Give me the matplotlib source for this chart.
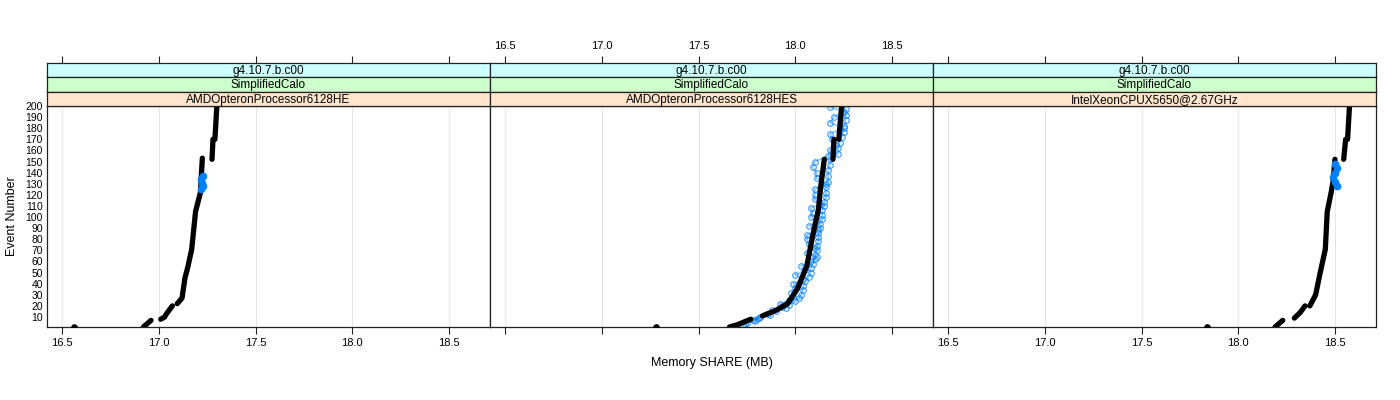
import numpy as np
import matplotlib
matplotlib.use('Agg')
import matplotlib.pyplot as plt

plt.rcParams['font.family'] = ['Liberation Sans', 'DejaVu Sans']

# panel labels (strips top to bottom)
version = 'g4.10.7.b.c00'
test = 'SimplifiedCalo'
cpus = ['AMDOpteronProcessor6128HE', 'AMDOpteronProcessor6128HES',
        'IntelXeonCPUX5650@2.67GHz']

# black series: segments of (event, memory MB), nan separates segments
p1_event = [1, np.nan, 1, 7, np.nan, 8, 10, 13, 20, np.nan, 22, 27, 45, 55, 71, 105, 122, 153,
            np.nan, 152, 170, np.nan, 170, 200]
p1_mem = [16.56, np.nan, 16.92, 16.96, np.nan, 17.01, 17.03, 17.04, 17.07, np.nan,
          17.095, 17.12, 17.135, 17.15, 17.17, 17.19, 17.215, 17.225,
          np.nan, 17.275, 17.28, np.nan, 17.29, 17.30]

p2_event = [1, np.nan, 1, 3, 8, np.nan, 11, 16, 22, 35, 56, 83, 107, 125, 152,
            np.nan, 152, 170, np.nan, 170, 200]
p2_mem = [17.28, np.nan, 17.66, 17.70, 17.77, np.nan, 17.83, 17.90, 17.96, 18.01, 18.06,
          18.09, 18.12, 18.13, 18.15, np.nan, 18.195, 18.20, np.nan, 18.225, 18.24]

p3_event = [1, np.nan, 1, 4, 7, np.nan, 9, 14, 20, np.nan, 20, 30, 47, 71, 105, 122, 132, 152,
            np.nan, 152, 170, np.nan, 170, 200]
p3_mem = [17.84, np.nan, 18.19, 18.21, 18.23, np.nan, 18.29, 18.32, 18.345, np.nan,
          18.37, 18.40, 18.42, 18.45, 18.46, 18.48, 18.49, 18.50,
          np.nan, 18.545, 18.555, np.nan, 18.565, 18.575]

# blue series (other runs)
b1_event = [125, 128, 131, 134, 137]
b1_mem = [17.22, 17.23, 17.225, 17.22, 17.23]

b2_event = [3, 5, 6, 8, 10, 13, 16, 19, 22, 25, 28, 32, 36, 40, 44, 48, 52, 56, 60, 64,
            68, 72, 76, 80, 84, 88, 92, 96, 100, 104, 108, 112, 116, 120, 125, 130, 135,
            140, 145, 150, 155, 160, 165, 170, 175, 180, 185, 190, 195, 199]
b2_mem = [17.73, 17.75, 17.79, 17.80, 17.82, 17.86, 17.88, 17.93, 17.92, 17.97, 17.99,
          17.98, 18.00, 17.99, 18.04, 18.00, 18.05, 18.03, 18.08, 18.11, 18.06, 18.10,
          18.07, 18.06, 18.06, 18.12, 18.07, 18.11, 18.08, 18.09, 18.08, 18.13, 18.10,
          18.10, 18.10, 18.16, 18.11, 18.11, 18.09, 18.10, 18.17, 18.18, 18.21, 18.19,
          18.18, 18.25, 18.18, 18.20, 18.25, 18.18]

b2b_event = [2, 4, 7, 9, 12, 15, 18, 21, 24, 27, 30, 34, 38, 42, 46, 50, 54, 58, 62, 66,
             70, 74, 78, 82, 86, 90, 94, 98, 102, 106, 110, 114, 118, 122, 127, 132, 137,
             142, 147, 152, 157, 162, 167, 172, 177, 182, 187, 192, 197]
b2b_mem = [17.70, 17.74, 17.78, 17.81, 17.87, 17.90, 17.95, 17.97, 18.00, 18.02, 18.03,
           18.04, 18.04, 18.05, 18.07, 18.08, 18.08, 18.09, 18.10, 18.10, 18.11, 18.11,
           18.12, 18.12, 18.12, 18.13, 18.13, 18.14, 18.14, 18.14, 18.15, 18.15, 18.16,
           18.16, 18.16, 18.17, 18.17, 18.17, 18.18, 18.18, 18.22, 18.22, 18.23, 18.24,
           18.25, 18.25, 18.26, 18.26, 18.26]

b3_event = [128, 132, 136, 140, 144, 148]
b3_mem = [18.51, 18.50, 18.49, 18.50, 18.51, 18.50]

events = [p1_event, p2_event, p3_event]
mems = [p1_mem, p2_mem, p3_mem]
bev = [[b1_event], [b2_event, b2b_event], [b3_event]]
bmem = [[b1_mem], [b2_mem, b2b_mem], [b3_mem]]

xticks = [16.5, 17.0, 17.5, 18.0, 18.5]
yticks = list(range(10, 201, 10))
strip_cols = ['#ccffff', '#ccffcc', '#ffe5cc']

fig = plt.figure(figsize=(14, 4), dpi=100)
W, H = 1400, 400
left0, pw = 47, 443
top, bottom = 106, 327
sh = 14.5
edge = '#222222'
blue = '#0080ff'

for i in range(3):
    x0 = left0 + i * pw
    ax = fig.add_axes([x0 / W, 1 - bottom / H, pw / W, (bottom - top) / H])
    ax.set_xlim(16.422, 18.712)
    ax.set_ylim(1, 200)
    for g in xticks:
        ax.axvline(g, color='#e6e6e6', lw=0.8, zorder=0)
    # blue runs
    for be, bm in zip(bev[i], bmem[i]):
        if i == 1:
            ax.plot(bm, be, color=blue, lw=1.2, alpha=0.45, zorder=2)
            ax.plot(bm, be, 'o', mfc='none', mec=blue, ms=4, mew=0.8, alpha=0.8, zorder=2)
    # black reference run
    ax.plot(mems[i], events[i], color='black', lw=3.8, solid_capstyle='round',
            solid_joinstyle='round', zorder=3)
    ax.plot(mems[i][0], events[i][0], 'o', color='black', ms=3.8, zorder=3)
    if i != 1:
        ax.plot(bmem[i][0], bev[i][0], 'o', color=blue, ms=4.5, zorder=4)
    ax.set_xticks(xticks)
    ax.tick_params(axis='x', direction='out', length=5, color=edge, labelsize=8, pad=3)
    if i == 1:
        ax.set_xticklabels([])
    if i == 0:
        ax.set_yticks(yticks)
        ax.tick_params(axis='y', length=0, labelsize=7.5, pad=3)
    else:
        ax.set_yticks([])
    for s in ax.spines.values():
        s.set_color(edge)
        s.set_linewidth(0.9)

    # strips
    labels = [version, test, cpus[i]]
    for k in range(3):
        y_top = top - (3 - k) * sh
        sax = fig.add_axes([x0 / W, 1 - (y_top + sh) / H, pw / W, sh / H])
        sax.set_facecolor(strip_cols[k])
        sax.set_xlim(16.422, 18.712)
        sax.set_yticks([])
        sax.text(0.5, 0.42, labels[k], transform=sax.transAxes, ha='center',
                 va='center', fontsize=8.5)
        for s in sax.spines.values():
            s.set_color(edge)
            s.set_linewidth(0.9)
        if k == 0:
            sax.xaxis.tick_top()
            sax.set_xticks(xticks)
            sax.tick_params(axis='x', direction='out', length=5, color=edge,
                            labelsize=8, pad=3)
            if i != 1:
                sax.set_xticklabels([])
        else:
            sax.set_xticks([])

fig.text(12 / W, 1 - 216 / H, 'Event Number', rotation=90, ha='center', va='center',
         fontsize=9)
fig.text(712 / W, 1 - 363 / H, 'Memory SHARE (MB)', ha='center', va='center',
         fontsize=9)

fig.savefig('out.png', dpi=100)
